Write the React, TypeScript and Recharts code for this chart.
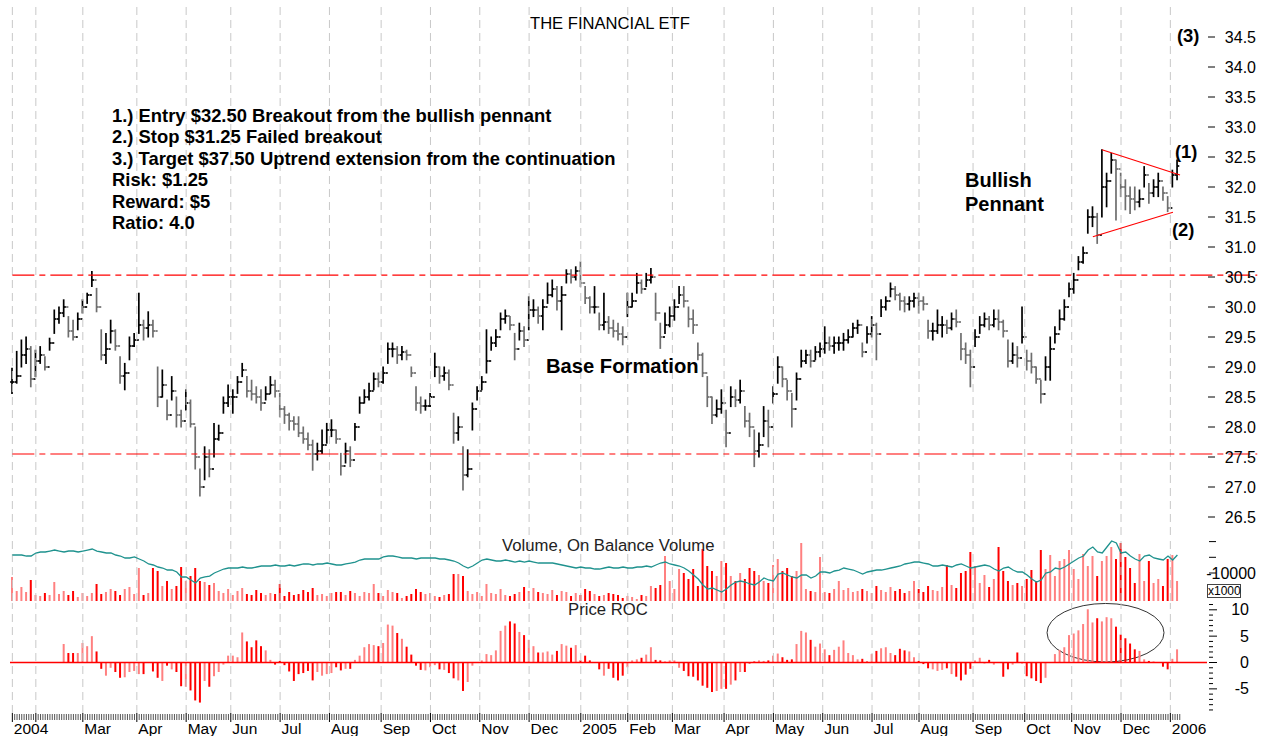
import React from 'react';
import { ComposedChart, Bar, Line, XAxis, YAxis, ReferenceLine, ReferenceArea, Cell } from 'recharts';

const FONT = '"Liberation Sans", Arial, Helvetica, sans-serif';

// each bar = 2 trading days, starting mid-January 2004
const DAY_STEP = 2;

const HIGH = [
  28.98, 29.26, 29.45, 29.5, 29.34, 29.28, 29.34, 29.17, 29.48, 29.95,
  30.0, 30.12, 29.84, 29.78, 29.9, 30.12, 30.23, 30.59, 30.31, 29.62,
  29.56, 29.78, 29.62, 29.17, 29.06, 29.5, 29.56, 30.23, 29.78, 29.92,
  29.78, 29.0, 28.95, 28.45, 28.84, 28.5, 28.28, 28.62, 28.45, 28.0,
  27.3, 27.67, 27.62, 28.06, 28.03, 28.5, 28.7, 28.62, 28.84, 29.06,
  28.84, 28.78, 28.67, 28.62, 28.67, 28.84, 28.78, 28.56, 28.34, 28.23,
  28.17, 28.17, 28.0, 27.9, 27.78, 27.73, 27.95, 28.06, 28.12, 27.95,
  27.56, 27.73, 27.67, 28.06, 28.5, 28.62, 28.73, 28.9, 28.9, 29.0,
  29.4, 29.4, 29.34, 29.34, 29.28, 29.0, 28.67, 28.5, 28.45, 28.56,
  29.23, 29.0, 29.0, 28.95, 28.23, 28.17, 27.67, 27.62, 28.4, 28.67,
  28.84, 29.62, 29.5, 29.62, 29.9, 29.95, 29.84, 29.56, 29.73, 29.67,
  30.17, 30.12, 30.0, 30.12, 30.4, 30.45, 30.34, 30.34, 30.62, 30.62,
  30.67, 30.75, 30.34, 30.17, 30.34, 29.9, 30.23, 29.84, 29.78, 29.73,
  29.67, 30.23, 30.23, 30.56, 30.45, 30.56, 30.64, 30.23, 29.73, 29.9,
  30.0, 30.12, 30.34, 30.34, 30.0, 29.95, 29.4, 29.23, 28.84, 28.5,
  28.45, 28.62, 28.28, 28.67, 28.62, 28.78, 28.34, 28.23, 27.95, 27.9,
  28.34, 28.28, 28.67, 29.17, 29.0, 28.78, 28.56, 28.9, 29.28, 29.28,
  29.28, 29.34, 29.4, 29.67, 29.5, 29.5, 29.5, 29.56, 29.62, 29.73,
  29.78, 29.4, 29.67, 29.84, 29.73, 30.12, 30.17, 30.4, 30.34, 30.23,
  30.17, 30.17, 30.23, 30.23, 30.17, 29.78, 29.73, 29.95, 29.84, 29.78,
  29.9, 29.95, 29.56, 29.4, 29.28, 29.62, 29.84, 29.9, 29.84, 29.95,
  29.95, 29.78, 29.45, 29.4, 29.34, 30.0, 29.28, 29.23, 29.0, 28.78,
  29.17, 29.5, 29.67, 29.95, 30.12, 30.4, 30.56, 30.84, 31.0, 31.62,
  31.67, 31.56, 32.62, 32.23, 32.56, 32.45, 32.23, 32.12, 32.0, 32.0,
  31.95, 32.34, 32.06, 32.12, 32.23, 32.0, 31.84, 32.28, 32.45,
];

const LOW = [
  28.56, 28.73, 29.0, 29.06, 28.67, 28.84, 29.06, 28.95, 29.28, 29.56,
  29.73, 29.84, 29.5, 29.45, 29.62, 29.9, 30.06, 30.34, 29.92, 29.12,
  29.06, 29.4, 29.28, 28.73, 28.62, 29.12, 29.34, 29.56, 29.45, 29.5,
  29.5, 28.34, 28.5, 28.12, 28.45, 28.0, 28.0, 28.28, 28.0, 27.3,
  26.85, 27.12, 27.17, 27.5, 27.78, 28.23, 28.34, 28.23, 28.56, 28.84,
  28.5, 28.45, 28.4, 28.28, 28.45, 28.56, 28.5, 28.17, 28.06, 27.95,
  27.95, 27.84, 27.73, 27.62, 27.28, 27.45, 27.56, 27.73, 27.84, 27.73,
  27.2, 27.4, 27.34, 27.78, 28.23, 28.4, 28.45, 28.62, 28.67, 28.73,
  29.06, 29.17, 29.06, 29.12, 29.12, 28.84, 28.28, 28.23, 28.28, 28.34,
  28.84, 28.73, 28.78, 28.62, 27.73, 27.78, 26.95, 27.17, 27.95, 28.45,
  28.62, 28.9, 29.28, 29.34, 29.62, 29.73, 29.62, 29.12, 29.45, 29.34,
  29.62, 29.84, 29.73, 29.62, 30.06, 30.17, 29.95, 29.62, 30.4, 30.4,
  30.45, 30.34, 30.06, 29.9, 29.9, 29.62, 29.62, 29.56, 29.5, 29.45,
  29.37, 29.84, 30.0, 30.23, 30.23, 30.34, 30.4, 29.78, 29.31, 29.56,
  29.67, 29.78, 30.06, 30.0, 29.67, 29.56, 29.12, 28.84, 28.34, 28.06,
  28.17, 28.23, 27.67, 28.34, 28.34, 28.4, 28.0, 27.84, 27.34, 27.5,
  27.84, 27.67, 28.4, 28.73, 28.67, 28.45, 28.0, 28.45, 29.0, 29.06,
  29.0, 29.12, 29.17, 29.23, 29.28, 29.23, 29.28, 29.28, 29.4, 29.5,
  29.56, 29.17, 29.4, 29.5, 29.12, 29.84, 29.95, 30.17, 30.12, 29.95,
  29.92, 29.95, 30.0, 29.9, 29.95, 29.48, 29.45, 29.56, 29.5, 29.56,
  29.62, 29.67, 29.12, 29.06, 28.67, 29.34, 29.56, 29.67, 29.62, 29.67,
  29.62, 29.5, 29.0, 29.06, 29.0, 29.4, 28.95, 28.9, 28.73, 28.4,
  28.78, 28.78, 29.4, 29.62, 29.78, 30.17, 30.23, 30.62, 30.73, 31.23,
  31.34, 31.06, 31.5, 31.67, 32.23, 31.45, 31.84, 31.62, 31.56, 31.62,
  31.67, 32.0, 31.73, 31.84, 31.84, 31.78, 31.59, 32.0, 32.12,
];

const CLOSE = [
  28.75, 28.85, 29.2, 29.3, 28.8, 29.1, 29.2, 29.0, 29.4, 29.8,
  29.9, 30.0, 29.6, 29.5, 29.8, 30.0, 30.2, 30.45, 30.0, 29.2,
  29.3, 29.6, 29.35, 28.85, 28.9, 29.35, 29.45, 29.7, 29.65, 29.7,
  29.6, 28.5, 28.7, 28.2, 28.6, 28.2, 28.1, 28.4, 28.05, 27.5,
  27.0, 27.5, 27.3, 27.8, 27.9, 28.4, 28.5, 28.5, 28.75, 28.95,
  28.6, 28.55, 28.5, 28.4, 28.55, 28.7, 28.6, 28.3, 28.2, 28.1,
  28.05, 27.9, 27.8, 27.7, 27.55, 27.6, 27.7, 27.95, 27.95, 27.8,
  27.35, 27.6, 27.45, 28.0, 28.4, 28.5, 28.6, 28.8, 28.75, 28.9,
  29.3, 29.3, 29.2, 29.25, 29.2, 28.9, 28.4, 28.35, 28.35, 28.5,
  29.0, 28.85, 28.9, 28.7, 27.9, 28.0, 27.2, 27.3, 28.3, 28.6,
  28.75, 29.1, 29.4, 29.5, 29.8, 29.85, 29.7, 29.3, 29.6, 29.45,
  29.95, 29.95, 29.85, 30.0, 30.2, 30.3, 30.1, 30.2, 30.55, 30.5,
  30.6, 30.4, 30.15, 30.0, 30.0, 29.7, 29.75, 29.65, 29.6, 29.55,
  29.5, 30.0, 30.1, 30.4, 30.3, 30.45, 30.5, 29.9, 29.5, 29.7,
  29.85, 30.0, 30.2, 30.1, 29.8, 29.7, 29.2, 28.9, 28.5, 28.2,
  28.3, 28.4, 27.9, 28.5, 28.45, 28.6, 28.1, 28.0, 27.6, 27.7,
  28.1, 28.0, 28.55, 29.0, 28.8, 28.6, 28.3, 28.8, 29.1, 29.2,
  29.1, 29.25, 29.3, 29.4, 29.35, 29.4, 29.4, 29.45, 29.5, 29.65,
  29.7, 29.25, 29.55, 29.7, 29.55, 30.0, 30.1, 30.3, 30.2, 30.1,
  30.05, 30.1, 30.15, 30.1, 30.05, 29.6, 29.6, 29.7, 29.7, 29.65,
  29.8, 29.75, 29.3, 29.2, 29.0, 29.5, 29.7, 29.8, 29.7, 29.8,
  29.75, 29.6, 29.1, 29.2, 29.15, 29.5, 29.1, 29.0, 28.8, 28.55,
  29.0, 29.3, 29.55, 29.8, 30.0, 30.3, 30.45, 30.75, 30.9, 31.5,
  31.5, 31.2, 32.0, 32.1, 32.45, 32.3, 32.0, 31.85, 31.8, 31.75,
  31.8, 32.2, 31.9, 32.0, 32.1, 31.9, 31.65, 32.2, 32.35,
];

const VOLUME = [
  24, 10, 14, 9, 21, 6, 5, 8, 6, 19,
  7, 10, 6, 10, 4, 8, 5, 8, 17, 7,
  9, 12, 10, 6, 12, 14, 7, 33, 6, 8,
  33, 30, 15, 20, 12, 15, 34, 20, 25, 33,
  20, 19, 16, 18, 10, 8, 12, 6, 10, 13,
  7, 6, 11, 8, 6, 8, 7, 17, 5, 9,
  6, 7, 11, 9, 13, 6, 7, 5, 8, 9,
  9, 6, 10, 8, 5, 9, 8, 17, 8, 5,
  11, 9, 8, 3, 5, 7, 12, 9, 7, 8,
  5, 4, 6, 7, 27, 27, 25, 10, 7, 9,
  5, 17, 8, 7, 12, 6, 5, 7, 9, 14,
  10, 13, 9, 8, 7, 11, 6, 10, 9, 5,
  8, 6, 12, 10, 7, 5, 6, 8, 7, 6,
  3, 5, 4, 2, 6, 5, 15, 13, 16, 45,
  20, 12, 32, 28, 22, 32, 15, 52, 35, 30,
  25, 40, 38, 25, 20, 28, 22, 33, 30, 26,
  20, 18, 36, 42, 30, 33, 25, 30, 58, 12,
  10, 9, 44, 9, 8, 12, 20, 11, 13, 9,
  10, 12, 10, 8, 15, 11, 9, 14, 10, 12,
  8, 10, 20, 12, 9, 15, 11, 10, 14, 36,
  16, 13, 28, 30, 49, 35, 18, 26, 14, 22,
  54, 30, 20, 16, 18, 15, 22, 31, 20, 51,
  32, 46, 25, 40, 42, 51, 32, 22, 47, 35,
  45, 25, 40, 45, 54, 42, 58, 44, 33, 18,
  47, 20, 40, 18, 22, 15, 42, 46, 20,
];

// On Balance Volume (x1000)
const OBV = [
  -4270, -4270, -4270, -4590, -4590, -3630, -3310, -3310, -3000, -2680,
  -3000, -3310, -3000, -3000, -3310, -3000, -2680, -2360, -3000, -3310,
  -3630, -3630, -4270, -4590, -5220, -5220, -4900, -5540, -6180, -7130,
  -7450, -8090, -8410, -9050, -9050, -9680, -11270, -11270, -12230, -13190,
  -11590, -11270, -10960, -10000, -9360, -8730, -8410, -8410, -8410, -8090,
  -8410, -8410, -8090, -7770, -7770, -7770, -7450, -7770, -7770, -7450,
  -7770, -7450, -7130, -7130, -7450, -7130, -7130, -6820, -7130, -7450,
  -7450, -7130, -6820, -6500, -5860, -5540, -5540, -5540, -5540, -4900,
  -4590, -4590, -4900, -5220, -5220, -5220, -5540, -5220, -5220, -5220,
  -5220, -5540, -5540, -5860, -6180, -6820, -7770, -8410, -7770, -6820,
  -5860, -5540, -5860, -6180, -6180, -5860, -6180, -6500, -6180, -6500,
  -6180, -6500, -6820, -6820, -6820, -6820, -7130, -7450, -7770, -8090,
  -8410, -8090, -8410, -8410, -8730, -8730, -8410, -8090, -8410, -8410,
  -8090, -8410, -8410, -8090, -8090, -7770, -8090, -7450, -6820, -6500,
  -7130, -7450, -7770, -8410, -9360, -10640, -11910, -13820, -15100, -14780,
  -15420, -16050, -15100, -13820, -12870, -12550, -12870, -13500, -13820, -12870,
  -11590, -12230, -12550, -10320, -10000, -10640, -11270, -11590, -10640, -10640,
  -11590, -10960, -9680, -9680, -10000, -9360, -9050, -8410, -8730, -9050,
  -9680, -10320, -9680, -9360, -9050, -9050, -8730, -8410, -8090, -7770,
  -7130, -6820, -6500, -6500, -6820, -7130, -7770, -7770, -7450, -7770,
  -8090, -7450, -7130, -7770, -8410, -8090, -7770, -7450, -7770, -8730,
  -9360, -8410, -8090, -9050, -9680, -9680, -10640, -11910, -12870, -12230,
  -10000, -9680, -8410, -8730, -8090, -7130, -6180, -5220, -4590, -2680,
  -1720, -3310, -3630, -1720, 190, -450, -3630, -3310, -4590, -5540,
  -6180, -4590, -4270, -5220, -5540, -5860, -4590, -5860, -4270,
];

const ROC: (number | null)[] = [
  null, null, null, null, null, null, null, null, null, null,
  null, 3.5, 1.8, 1.8, 1.8, 3.7, 3.1, 5.0, 2.1, -1.2,
  -2.5, -1.0, -1.8, -2.9, -2.8, -1.8, -1.6, -2.2, -2.2, -0.1,
  -1.7, -2.9, -3.5, -0.6, -1.3, -1.8, -4.5, -4.6, -5.3, -7.2,
  -7.6, -3.5, -4.6, -2.6, -1.8, -0.4, 1.3, 1.3, 1.0, 5.7,
  4.0, 2.9, 4.2, 3.1, 2.3, 0.5, -0.4, 0.3, -0.5, -1.7,
  -3.5, -2.2, -2.0, -1.6, -3.4, -1.8, -2.5, -2.2, -2.0, -0.9,
  -1.5, -1.2, -1.2, 0.5, 1.3, 2.9, 3.5, 3.3, 3.1, 3.7,
  7.2, 7.0, 5.6, 4.5, 3.0, 1.5, -0.6, -1.4, -1.5, -0.9,
  -0.5, -1.3, -1.4, -2.0, -3.0, -3.4, -5.4, -3.7, -0.6, 0.1,
  0.4, 1.6, 1.4, 2.3, 6.0, 7.0, 7.8, 7.4, 5.8, 5.2,
  4.3, 3.1, 1.9, 1.9, 2.1, 1.5, 2.2, 3.5, 3.2, 2.8,
  3.3, 0.4, 1.3, 0.4, -0.1, -1.3, -2.5, -1.2, -2.9, -3.4,
  -2.5, -0.9, 0.4, 0.6, 0.9, 1.5, 2.9, 0.5, 0.4, 0.2,
  0.4, 0.4, -1.0, -1.6, -2.6, -2.7, -3.4, -4.4, -4.8, -5.6,
  -5.4, -5.0, -5.0, -4.2, -3.4, -1.8, -1.8, -0.2, 0.2, 0.4,
  0.3, 0.4, 1.3, 1.7, 1.0, 0.5, 0.6, 3.5, 6.0, 5.7,
  4.3, 3.0, 3.6, 2.5, 1.4, 2.4, 3.0, 4.2, 1.8, 1.4,
  0.6, 0.7, 0.3, 1.6, 2.2, 2.7, 2.9, 1.8, 1.4, 2.6,
  2.3, 2.1, 1.0, 0.3, -0.3, -1.1, -1.3, -1.6, -1.4, -1.1,
  -2.2, -2.7, -3.4, -2.3, -1.2, 0.4, 0.9, -0.2, 0.5, -0.4,
  0.1, -2.7, -1.3, -0.4, 1.9, -0.2, -2.6, -3.0, -3.5, -3.9,
  -2.9, 0.0, 1.6, 2.4, 2.9, 5.2, 5.5, 6.1, 7.3, 10.1,
  7.6, 8.4, 7.8, 8.6, 8.4, 6.8, 5.3, 4.6, 3.6, 2.5,
  2.2, 0.6, 0.3, 0.2, 0.1, -0.8, -1.3, 0.7, 2.5,
];

// trading-day index where each month begins
const MONTH_DAYS = [0, 10, 30, 53, 74, 93, 114, 135, 157, 178, 199, 220, 242, 262, 281, 303, 324, 345, 366, 386, 409, 431, 451, 472, 493];
const MONTH_LABELS = ['2004', '', 'Mar', 'Apr', 'May', 'Jun', 'Jul', 'Aug', 'Sep', 'Oct', 'Nov', 'Dec', '2005', 'Feb', 'Mar', 'Apr', 'May', 'Jun', 'Jul', 'Aug', 'Sep', 'Oct', 'Nov', 'Dec', '2006'];
const LAST_DAY = 497;

const PRICE_TICKS = [26.5, 27.0, 27.5, 28.0, 28.5, 29.0, 29.5, 30.0, 30.5, 31.0, 31.5, 32.0, 32.5, 33.0, 33.5, 34.0, 34.5];
const ROC_TICKS = [-9, -8, -7, -6, -5, -4, -3, -2, -1, 0, 1, 2, 3, 4, 5, 6, 7, 8, 9, 10, 11];
const ROC_LABELS = [-5, 0, 5, 10];
const OBV_TICKS = [-15000, -10000, -5000, 0];
const OBV_LABELS = [-10000];

const RESISTANCE = 30.53;
const SUPPORT = 27.55;
const PENNANT_UPPER = [{ x: 463.9, y: 32.62 }, { x: 497.1, y: 32.2 }];
const PENNANT_LOWER = [{ x: 460.0, y: 31.17 }, { x: 494.1, y: 31.58 }];
const ROC_CIRCLE = { x1: 440.5, x2: 490.3, y1: 0.1, y2: 11.2 };

const NOTES = [
  '1.) Entry $32.50 Breakout from the bullish pennant',
  '2.) Stop $31.25 Failed breakout',
  '3.) Target $37.50 Uptrend extension from the continuation',
  'Risk: $1.25',
  'Reward: $5',
  'Ratio: 4.0',
];

const X_DOMAIN: [number, number] = [-1, 508.6];
const AXIS_X = 1207;

const rows = CLOSE.map((c, i) => {
  const prev = i === 0 ? c : CLOSE[i - 1];
  return {
    day: i * DAY_STEP,
    range: [LOW[i], HIGH[i]],
    high: HIGH[i],
    low: LOW[i],
    open: prev,
    close: c,
    up: c >= prev,
    vol: VOLUME[i],
    obv: OBV[i],
    roc: ROC[i],
  };
});

const DAY_TICKS = Array.from({ length: LAST_DAY + 1 }, (_, i) => i);

const OhlcShape = (props: any) => {
  const { x, y, width, height, payload } = props;
  if (x == null || y == null || !payload) return null;
  const cx = x + width / 2;
  const top = Math.min(y, y + height);
  const h = Math.abs(height);
  const span = payload.high - payload.low || 1;
  const yo = top + ((payload.high - payload.open) / span) * h;
  const yc = top + ((payload.high - payload.close) / span) * h;
  const color = payload.up ? '#000000' : '#6e6e6e';
  return (
    <g stroke={color} strokeWidth={1.7}>
      <line x1={cx} x2={cx} y1={top - 0.5} y2={top + h + 0.5} />
      <line x1={cx - 2.2} x2={cx} y1={yo} y2={yo} />
      <line x1={cx} x2={cx + 2.2} y1={yc} y2={yc} />
    </g>
  );
};

const PriceTick = (props: any) => {
  const { y, payload } = props;
  return (
    <g>
      <line x1={AXIS_X + 1} x2={AXIS_X + 8} y1={y} y2={y} stroke="#000" />
      <text x={AXIS_X + 49} y={y + 5.5} textAnchor="end" fontSize={16} fontFamily={FONT} fill="#000">
        {Number(payload.value).toFixed(1)}
      </text>
    </g>
  );
};

const RocTick = (props: any) => {
  const { y, payload } = props;
  const major = ROC_LABELS.includes(payload.value);
  return (
    <g>
      <line x1={AXIS_X + 2} x2={AXIS_X + (major ? 10 : 6)} y1={y} y2={y} stroke="#000" />
      {major && (
        <text x={AXIS_X + 42} y={y + 5.5} textAnchor="end" fontSize={16} fontFamily={FONT} fill="#000">
          {payload.value}
        </text>
      )}
    </g>
  );
};

const ObvTick = (props: any) => {
  const { y, payload } = props;
  const major = OBV_LABELS.includes(payload.value);
  return (
    <g>
      <line x1={AXIS_X + 2} x2={AXIS_X + 9} y1={y} y2={y} stroke="#000" />
      {major && (
        <text x={AXIS_X + 49} y={y + 5.5} textAnchor="end" fontSize={16} fontFamily={FONT} fill="#000">
          {payload.value}
        </text>
      )}
    </g>
  );
};

const DayTick = (props: any) => {
  const { x, y, payload } = props;
  const mi = MONTH_DAYS.indexOf(payload.value);
  if (mi >= 0) {
    return (
      <g>
        <line x1={x} x2={x} y1={y} y2={y + 9} stroke="#000" />
        <text x={x + 1.5} y={y + 21} fontSize={15.5} fontFamily={FONT} fill="#000">
          {MONTH_LABELS[mi]}
        </text>
      </g>
    );
  }
  return <line x1={x} x2={x} y1={y + 1} y2={y + 7} stroke="#555" strokeWidth={1} />;
};

const Ellipse = (props: any) => {
  const { x, y, width, height } = props;
  return (
    <ellipse cx={x + width / 2} cy={y + height / 2} rx={Math.abs(width) / 2} ry={Math.abs(height) / 2} fill="none" stroke="#333" strokeWidth={1} />
  );
};

const gridLines = (prefix: string) =>
  MONTH_DAYS.map((d) => (
    <ReferenceLine key={prefix + d} x={d} stroke="#c8c8c8" strokeDasharray="8 5" strokeWidth={1} />
  ));

const txt: React.CSSProperties = { position: 'absolute', fontFamily: FONT, color: '#000', whiteSpace: 'nowrap' };

export default function App() {
  return (
    <div style={{ position: 'absolute', left: 0, top: 0, width: 1262, height: 736, background: '#fff', overflow: 'hidden' }}>
      {/* price panel */}
      <div style={{ position: 'absolute', left: 0, top: 0 }}>
        <ComposedChart width={1262} height={535} data={rows} margin={{ top: 7, right: 0, bottom: 0, left: 10 }}>
          <XAxis dataKey="day" type="number" domain={X_DOMAIN} allowDataOverflow hide />
          <YAxis
            orientation="right"
            width={55}
            domain={[26.2, 35.0]}
            ticks={PRICE_TICKS}
            interval={0}
            allowDataOverflow
            axisLine={false}
            tickLine={false}
            tickSize={0}
            tickMargin={0}
            tick={(p: any) => <PriceTick {...p} />}
          />
          {gridLines('p')}
          <ReferenceLine segment={[{ x: 0, y: RESISTANCE }, { x: 530, y: RESISTANCE }]} stroke="#ff0000" strokeWidth={1.2} strokeDasharray="22 5 6 5" ifOverflow="visible" />
          <ReferenceLine segment={[{ x: 0, y: SUPPORT }, { x: 530, y: SUPPORT }]} stroke="#ff0000" strokeWidth={1.2} strokeDasharray="22 5 6 5" ifOverflow="visible" />
          <Bar dataKey="range" barSize={4} shape={OhlcShape} isAnimationActive={false} />
          <ReferenceLine segment={PENNANT_UPPER} stroke="#ff0000" strokeWidth={1.2} ifOverflow="visible" />
          <ReferenceLine segment={PENNANT_LOWER} stroke="#ff0000" strokeWidth={1.2} ifOverflow="visible" />
        </ComposedChart>
      </div>

      {/* volume / OBV panel */}
      <div style={{ position: 'absolute', left: 0, top: 537 }}>
        <ComposedChart width={1262} height={64} data={rows} margin={{ top: 0, right: 0, bottom: 0, left: 10 }}>
          <XAxis dataKey="day" type="number" domain={X_DOMAIN} allowDataOverflow hide />
          <YAxis yAxisId="v" domain={[0, 64]} hide allowDataOverflow />
          <YAxis
            yAxisId="o"
            orientation="right"
            width={55}
            domain={[-18918, 1466]}
            ticks={OBV_TICKS}
            interval={0}
            allowDataOverflow
            axisLine={false}
            tickLine={false}
            tickSize={0}
            tickMargin={0}
            tick={(p: any) => <ObvTick {...p} />}
          />
          {MONTH_DAYS.map((d) => (
            <ReferenceLine key={'v' + d} x={d} yAxisId="v" stroke="#c8c8c8" strokeDasharray="8 5" />
          ))}
          <Bar dataKey="vol" yAxisId="v" barSize={2} isAnimationActive={false}>
            {rows.map((r, i) => (
              <Cell key={i} fill={r.up ? '#ff8080' : '#ff0000'} />
            ))}
          </Bar>
          <Line dataKey="obv" yAxisId="o" type="linear" stroke="#1f928e" strokeWidth={1.3} dot={false} isAnimationActive={false} />
        </ComposedChart>
      </div>

      {/* price ROC panel */}
      <div style={{ position: 'absolute', left: 0, top: 601 }}>
        <ComposedChart width={1262} height={135} data={rows} margin={{ top: 2, right: 0, bottom: 0, left: 10 }}>
          <XAxis
            dataKey="day"
            type="number"
            domain={X_DOMAIN}
            allowDataOverflow
            ticks={DAY_TICKS}
            interval={0}
            height={23}
            axisLine={false}
            tickLine={false}
            tickSize={0}
            tickMargin={0}
            tick={(p: any) => <DayTick {...p} />}
          />
          <YAxis
            orientation="right"
            width={55}
            domain={[-9.58, 11.29]}
            ticks={ROC_TICKS}
            interval={0}
            allowDataOverflow
            axisLine={false}
            tickLine={false}
            tickSize={0}
            tickMargin={0}
            tick={(p: any) => <RocTick {...p} />}
          />
          {gridLines('r')}
          <Bar dataKey="roc" barSize={2} isAnimationActive={false}>
            {rows.map((r, i) => (
              <Cell key={i} fill={r.up ? '#ff8080' : '#ff0000'} />
            ))}
          </Bar>
          <ReferenceLine y={0} stroke="#ff0000" strokeWidth={1.3} />
          <ReferenceArea x1={ROC_CIRCLE.x1} x2={ROC_CIRCLE.x2} y1={ROC_CIRCLE.y1} y2={ROC_CIRCLE.y2} ifOverflow="visible" shape={Ellipse} />
        </ComposedChart>
      </div>

      {/* texts */}
      <div style={{ ...txt, left: 530, top: 14, fontSize: 16.6, lineHeight: '19px' }}>THE FINANCIAL ETF</div>
      <div style={{ ...txt, left: 112, top: 105, fontSize: 18.4, fontWeight: 'bold', lineHeight: '21.4px' }}>
        {NOTES.map((n) => (
          <div key={n}>{n}</div>
        ))}
      </div>
      <div style={{ ...txt, left: 546, top: 354, fontSize: 20.2, fontWeight: 'bold', lineHeight: '24px' }}>Base Formation</div>
      <div style={{ ...txt, left: 965, top: 168, fontSize: 20, fontWeight: 'bold', lineHeight: '24px' }}>
        <div>Bullish</div>
        <div>Pennant</div>
      </div>
      <div style={{ ...txt, left: 1175, top: 141, fontSize: 18.4, fontWeight: 'bold', lineHeight: '22px' }}>(1)</div>
      <div style={{ ...txt, left: 1172, top: 219, fontSize: 18.4, fontWeight: 'bold', lineHeight: '22px' }}>(2)</div>
      <div style={{ ...txt, left: 1177, top: 25, fontSize: 18.4, fontWeight: 'bold', lineHeight: '22px' }}>(3)</div>
      <div style={{ ...txt, left: 502, top: 536, fontSize: 16.7, lineHeight: '19px', color: '#222' }}>Volume, On Balance Volume</div>
      <div style={{ ...txt, left: 568, top: 600, fontSize: 16.7, lineHeight: '19px', color: '#222' }}>Price ROC</div>
      <div
        style={{
          ...txt,
          left: 1207,
          top: 584,
          width: 32,
          height: 12,
          border: '1px solid #444',
          fontSize: 12,
          lineHeight: '12px',
          textAlign: 'center',
          background: '#fff',
        }}
      >
        x1000
      </div>
    </div>
  );
}
